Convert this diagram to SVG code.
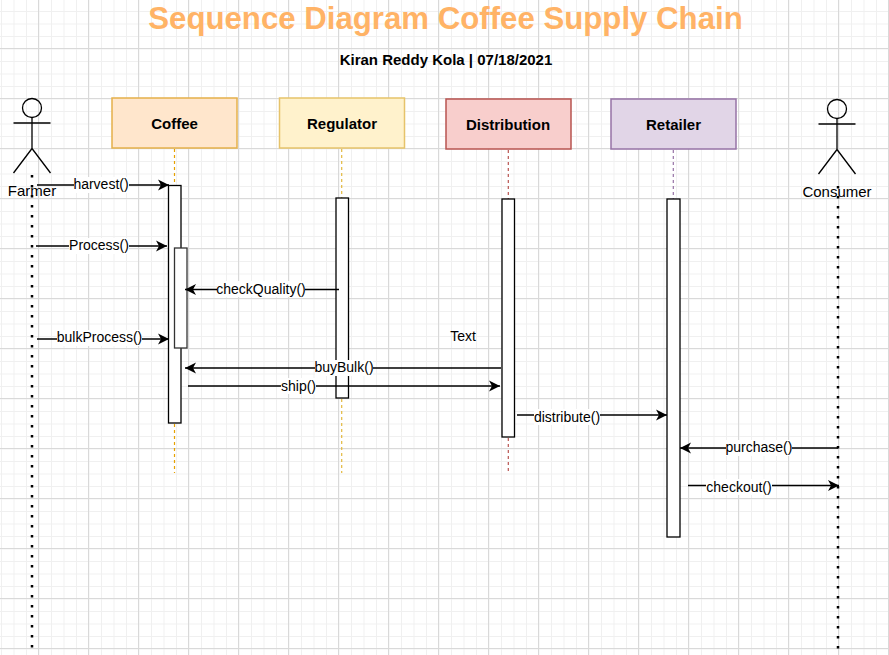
<svg xmlns="http://www.w3.org/2000/svg" width="889" height="655" viewBox="0 0 889 655">
<style>
text{font-family:"Liberation Sans",Arial,sans-serif;font-size:14px;fill:#000;text-anchor:middle}
.b{font-weight:bold;font-size:15px}
.actorname{font-size:15px}
.title{font-size:31.2px;font-weight:bold;fill:#ffb366}
.lbl{fill:#fff;stroke:none}
.msg{fill:none;stroke:#000;stroke-width:1.4;marker-end:url(#ah)}
.life{fill:none;stroke-width:1.2;stroke-dasharray:3 3}
.act{fill:#fff;stroke:#000;stroke-width:1.3}
.act2{fill:#fff;stroke:#333;stroke-width:1.3}
.actor{fill:none;stroke:#000;stroke-width:1.3}
.dots{fill:none;stroke:#000;stroke-width:2.5;stroke-dasharray:2.5 7.5}
</style>
<defs>
<marker id="ah" markerUnits="userSpaceOnUse" markerWidth="14" markerHeight="14" refX="11" refY="5.5" orient="auto" overflow="visible"><path d="M0 0L11 5.5L0 11L3 5.5Z" fill="#000"/></marker>
<pattern id="gridMinor" x="1" y="-1.5" width="12.5" height="12.5" patternUnits="userSpaceOnUse"><path d="M0 0.5H12.5M0.5 0V12.5" fill="none" stroke="#f0f0f0" stroke-width="1"/></pattern>
<pattern id="gridMajor" x="38" y="48" width="50" height="50" patternUnits="userSpaceOnUse"><path d="M0 0.5H50M0.5 0V50" fill="none" stroke="#d9d9d9" stroke-width="1"/></pattern>
</defs>
<rect width="889" height="655" fill="#fff"/>
<rect width="889" height="655" fill="url(#gridMinor)"/>
<rect width="889" height="655" fill="url(#gridMajor)"/>

<text class="title" x="445.5" y="29">Sequence Diagram Coffee Supply Chain</text>
<text class="b" x="446" y="65">Kiran Reddy Kola | 07/18/2021</text>

<g id="lifelines">
<path class="life" stroke="#e6a100" d="M174.5 149V185M174.5 424V473"/>
<path class="life" stroke="#e3b93f" d="M341.7 149V198M341.7 399V473"/>
<path class="life" stroke="#b85450" d="M508.300 150V199M508.300 438V473"/>
<path class="life" stroke="#9673a6" d="M673.300 150V199"/>
</g>

<g id="node-farmer">
<circle class="actor" cx="32" cy="108" r="9.5"/>
<path class="actor" d="M32 117.500V148.500M13.500 123H50.500M32 148.500L13.500 173M32 148.500L50.500 173"/>
<path class="dots" d="M32 175V650"/>
<text class="actorname" x="32" y="196">Farmer</text>
</g>
<g id="node-consumer">
<circle class="actor" cx="837" cy="109" r="9.5"/>
<path class="actor" d="M837 118.500V149.500M818.500 124H855.500M837 149.500L818.500 174M837 149.500L855.500 174"/>
<path class="dots" d="M838 186V650"/>
<text class="actorname" x="837" y="197">Consumer</text>
</g>
<g id="node-coffee">
<rect x="112" y="98" width="125" height="50" fill="#ffe6cc" stroke="#e5b04a" stroke-width="1.5"/>
<text class="b" x="174.500" y="129">Coffee</text>
<rect class="act" x="168.500" y="185.500" width="12.500" height="237.500"/>
<rect class="act2" x="174.500" y="248" width="12.500" height="100"/>
</g>
<g id="node-regulator">
<rect x="279.500" y="98" width="125" height="50" fill="#fff2cc" stroke="#e6c36a" stroke-width="1.500"/>
<text class="b" x="342" y="129">Regulator</text>
<rect class="act" x="336" y="198" width="12.500" height="200"/>
</g>
<g id="node-distribution">
<rect x="446" y="99" width="125" height="50" fill="#f8cecc" stroke="#b85450" stroke-width="1.500"/>
<text class="b" x="508" y="130">Distribution</text>
<rect class="act" x="502" y="199" width="12.500" height="238"/>
</g>
<g id="node-retailer">
<rect x="611" y="99" width="125" height="50" fill="#e1d5e7" stroke="#9673a6" stroke-width="1.500"/>
<text class="b" x="673.500" y="130">Retailer</text>
<rect class="act" x="667" y="199" width="13" height="338"/>
</g>

<g id="connectors">
<path class="msg" d="M37 185H169"/>
<rect class="lbl" x="74" y="177" width="55" height="16"/><text x="101" y="189">harvest()</text>
<path class="msg" d="M36 246H167"/>
<rect class="lbl" x="69" y="238" width="60" height="16"/><text x="99" y="250">Process()</text>
<path class="msg" d="M37 339H169"/>
<rect class="lbl" x="57" y="330" width="85" height="16"/><text x="99.500" y="342">bulkProcess()</text>
<path class="msg" d="M339 289.500H185"/>
<rect class="lbl" x="217" y="281" width="88" height="16"/><text x="261" y="294">checkQuality()</text>
<path class="msg" d="M501 368H185"/>
<rect class="lbl" x="315" y="360" width="58" height="16"/><text x="344" y="372">buyBulk()</text>
<path class="msg" d="M188 386H500"/>
<rect class="lbl" x="281" y="378" width="35" height="16"/><text x="298.500" y="391">ship()</text>
<path class="msg" d="M517 415H667"/>
<rect class="lbl" x="534" y="409" width="66" height="16"/><text x="567" y="422">distribute()</text>
<path class="msg" d="M838 448H680"/>
<rect class="lbl" x="726" y="440" width="66" height="16"/><text x="759" y="452">purchase()</text>
<path class="msg" d="M688 485.500H839"/>
<rect class="lbl" x="706" y="479" width="66" height="16"/><text x="739" y="492">checkout()</text>
</g>
<text x="463" y="341">Text</text>
</svg>
